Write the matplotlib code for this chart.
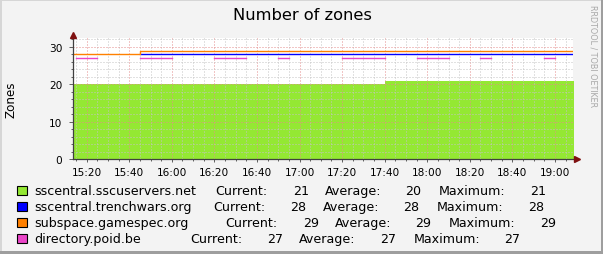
import numpy as np
import pandas as pd
import matplotlib
matplotlib.use("Agg")
import matplotlib.pyplot as plt
import matplotlib.dates as mdates
from matplotlib.patches import Rectangle
from matplotlib.lines import Line2D

# ---------------- data ----------------
title = "Number of zones"
y_label = "Zones"
watermark = "RRDTOOL / TOBI OETIKER"

# 5-minute samples (interval start times)
times = pd.date_range("2024-01-01 15:10", periods=48, freq="5min")
x_start = pd.Timestamp("2024-01-01 15:13:25")
x_end = pd.Timestamp("2024-01-01 19:08:15")

nan = np.nan
sscuservers = [20, 20, 20, 20, 20, 20, 20, 20, 20, 20,
               20, 20, 20, 20, 20, 20, 20, 20, 20, 20,
               20, 20, 20, 20, 20, 20, 20, 20, 20, 20,
               21, 21, 21, 21, 21, 21, 21, 21, 21, 21,
               21, 21, 21, 21, 21, 21, 21, 21]
trenchwars = [nan, nan, nan, nan, nan, nan, nan, 28, 28, 28,
              28, 28, 28, 28, 28, 28, 28, 28, 28, 28,
              28, 28, 28, 28, 28, 28, 28, 28, 28, 28,
              28, 28, 28, 28, 28, 28, 28, 28, 28, 28,
              28, 28, 28, 28, 28, 28, 28, 28]
gamespec = [28, 28, 28, 28, 28, 28, 28, 29, 29, 29,
            29, 29, 29, 29, 29, 29, 29, 29, 29, 29,
            29, 29, 29, 29, 29, 29, 29, 29, 29, 29,
            29, 29, 29, 29, 29, 29, 29, 29, 29, 29,
            29, 29, 29, 29, 29, 29, 29, 29]
poid = [nan, 27, 27, nan, nan, nan, nan, 27, 27, 27,
        nan, nan, nan, nan, 27, 27, 27, nan, nan, nan,
        27, nan, nan, nan, nan, nan, 27, 27, 27, 27,
        nan, nan, nan, 27, 27, 27, nan, nan, nan, 27,
        nan, nan, nan, nan, nan, 27, nan, nan]

series_names = ["sscentral.sscuservers.net", "sscentral.trenchwars.org",
                "subspace.gamespec.org", "directory.poid.be"]
series_colors = ["#94e833", "#0000ff", "#ff8000", "#ea45c8"]
stat_current = [21, 28, 29, 27]
stat_average = [20, 28, 29, 27]
stat_maximum = [21, 28, 29, 27]

yticks_major = [0, 10, 20, 30]

# ---------------- layout ----------------
W, H = 603, 255
fig = plt.figure(figsize=(W / 100, H / 100), dpi=100)
fig.patch.set_facecolor("#f3f3f3")


def fx(x):
    return x / W


def fy(y):
    return 1 - y / H


L, R, T, B = 72.7, 572.5, 39.0, 160.0
ax = fig.add_axes([fx(L), fy(B), fx(R) - fx(L), fy(T) - fy(B)])
ax.set_facecolor("white")

# extend the step series by one edge
t_ext = list(times) + [times[-1] + pd.Timedelta(minutes=5)]


def ext(v):
    return list(v) + [v[-1]]


ax.fill_between(t_ext, ext(sscuservers), 0, step="post",
                color=series_colors[0], linewidth=0, zorder=1)
ax.step(t_ext, ext(trenchwars), where="post", color=series_colors[1], lw=1.0, zorder=2)
ax.step(t_ext, ext(gamespec), where="post", color=series_colors[2], lw=1.0, zorder=2)
ax.step(t_ext, ext(poid), where="post", color=series_colors[3], lw=1.0, zorder=2)

ax.set_xlim(x_start, x_end)
ax.set_ylim(0, 32.4)

ax.xaxis.set_major_locator(mdates.MinuteLocator(byminute=[0, 20, 40]))
ax.xaxis.set_minor_locator(mdates.MinuteLocator(byminute=range(0, 60, 5)))
ax.xaxis.set_major_formatter(mdates.DateFormatter("%H:%M"))
ax.set_yticks(yticks_major)
ax.set_yticks(np.arange(0, 33, 2), minor=True)

ax.set_axisbelow("line")
ax.grid(which="minor", color="#c4c4c4", lw=0.72, ls=(0, (1, 2)))
ax.grid(which="major", color="#e48c8c", lw=0.72, ls=(0, (1, 2)))

for s in ax.spines.values():
    s.set_visible(False)

ax.tick_params(axis="both", which="both", colors="#606060", labelcolor="black",
               labelsize=7.6, width=0.7)
ax.tick_params(axis="x", which="major", length=2, pad=3.5)
ax.tick_params(axis="x", which="minor", length=1.5)
ax.tick_params(axis="y", which="major", length=3, pad=4.5)
ax.tick_params(axis="y", which="minor", length=1.5)

# axis lines with arrows
ax_col = "#404040"
arr_col = "#7f1010"
fig.add_artist(Line2D([fx(L), fx(L)], [fy(B), fy(36)], color=ax_col, lw=0.9))
fig.add_artist(Line2D([fx(L), fx(577)], [fy(B), fy(B)], color=ax_col, lw=0.9))
fig.add_artist(Line2D([fx(L)], [fy(36)], marker="^", color=arr_col, ms=4.5, lw=0))
fig.add_artist(Line2D([fx(577)], [fy(B)], marker=">", color=arr_col, ms=4.5, lw=0))

# texts
fig.text(fx(302), fy(16), title, ha="center", va="center", fontsize=11.7,
         family="DejaVu Sans")
fig.text(fx(10.8), fy(100), y_label, ha="center", va="center", rotation=90,
         fontsize=8.6)
fig.text(fx(593.5), fy(56.5), watermark, ha="center", va="center", rotation=270,
         fontsize=5.8, color="#a8a8a8")

# legend
row_y = [191.5, 207.3, 223.3, 239.3]
cur_x = [215.7, 213.3, 225.7, 190.0]
lfs = 9.1
for i in range(4):
    y = row_y[i]
    fig.add_artist(Rectangle((fx(17), fy(y + 4.8)), 10 / W, 9.6 / H,
                             facecolor=series_colors[i], edgecolor="black", lw=0.8))
    fig.text(fx(34.3), fy(y), series_names[i], ha="left", va="center", fontsize=lfs)
    cx = cur_x[i]
    fig.text(fx(cx), fy(y), "Current:", ha="left", va="center", fontsize=lfs)
    fig.text(fx(cx + 77), fy(y), f"{stat_current[i]}", ha="left", va="center", fontsize=lfs)
    fig.text(fx(cx + 109.3), fy(y), "Average:", ha="left", va="center", fontsize=lfs)
    fig.text(fx(cx + 189.7), fy(y), f"{stat_average[i]}", ha="left", va="center", fontsize=lfs)
    fig.text(fx(cx + 223.5), fy(y), "Maximum:", ha="left", va="center", fontsize=lfs)
    fig.text(fx(cx + 314.5), fy(y), f"{stat_maximum[i]}", ha="left", va="center", fontsize=lfs)

# 3D frame
fig.add_artist(Rectangle((0, 0), fx(2), 1, facecolor="#d6d6d6", lw=0))
fig.add_artist(Rectangle((0, fy(2)), 1, 2 / H, facecolor="#d6d6d6", lw=0))
fig.add_artist(Rectangle((fx(601), 0), 2 / W, 1, facecolor="#9e9e9e", lw=0))
fig.add_artist(Rectangle((0, 0), 1, 3 / H, facecolor="#9e9e9e", lw=0))

fig.savefig("out.png", dpi=100, facecolor=fig.get_facecolor())
